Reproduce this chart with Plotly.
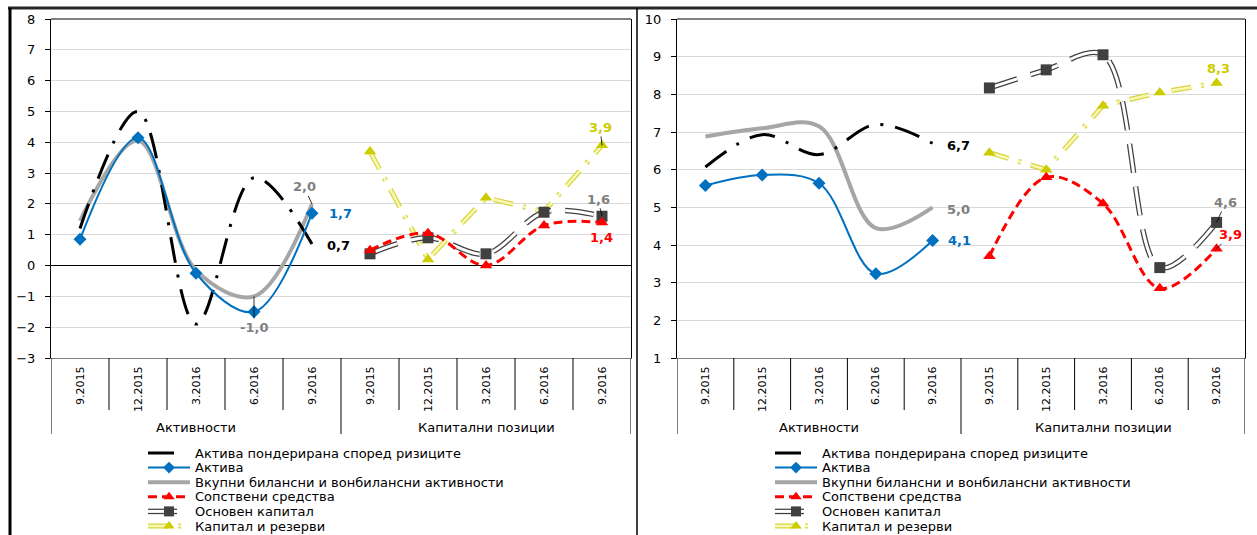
import plotly.graph_objects as go

W, H = 1257, 535

periods = ["9.2015", "12.2015", "3.2016", "6.2016", "9.2016"]
groups = ["Активности", "Капитални позиции"]

names = [
    "Актива пондерирана според ризиците",
    "Актива",
    "Вкупни билансни и вонбилансни активности",
    "Сопствени средства",
    "Основен капитал",
    "Капитал и резерви",
]

# Left panel, growth rates (%)
l_rwa = [1.2, 5.0, -1.9, 2.85, 0.7]
l_assets = [0.85, 4.15, -0.25, -1.5, 1.7]
l_total = [1.45, 4.05, -0.15, -1.0, 2.0]
l_own = [0.5, 1.05, 0.0, 1.3, 1.4]
l_core = [0.38, 0.9, 0.38, 1.73, 1.6]
l_capres = [3.7, 0.2, 2.2, 1.75, 3.9]

# Right panel, growth rates (%)
r_rwa = [6.07, 6.93, 6.4, 7.2, 6.7]
r_assets = [5.58, 5.86, 5.64, 3.24, 4.12]
r_total = [6.88, 7.1, 7.15, 4.45, 5.0]
r_own = [3.7, 5.8, 5.1, 2.85, 3.9]
r_core = [8.17, 8.65, 9.05, 3.4, 4.6]
r_capres = [6.45, 6.0, 7.7, 8.05, 8.3]

FONT = "DejaVu Sans"

# per-series styling: outer line, optional inner line (double-line look), marker, interpolation,
# and the length of the legend key
styles = [
    dict(line=dict(color="#000000", width=3, dash="26px,12px,3px,12px"), inner=None, marker=None,
         shape="spline", key=30),
    dict(line=dict(color="#0070C0", width=2), inner=None,
         marker=dict(symbol="diamond", size=10, color="#0070C0"), shape="spline", key=42),
    dict(line=dict(color="#A6A6A6", width=4), inner=None, marker=None, shape="spline", key=42),
    dict(line=dict(color="#FF0000", width=3, dash="9px,5px"), inner=None,
         marker=dict(symbol="triangle-up", size=11, color="#FF0000"), shape="spline", key=42),
    dict(line=dict(color="#404040", width=5.5, dash="29px,14px"),
         inner=dict(color="#FFFFFF", width=3, dash="29px,14px"),
         marker=dict(symbol="square", size=11, color="#404040"), shape="spline", key=42),
    dict(line=dict(color="#D6D640", width=5, dash="20px,10px,3px,10px"),
         inner=dict(color="#F8F8B4", width=2.5, dash="20px,10px,3px,10px"),
         marker=dict(symbol="triangle-up", size=11, color="#CCCC00"), shape="linear", key=42),
]

act_x = [0, 1, 2, 3, 4]
cap_x = [5, 6, 7, 8, 9]

panels = [
    ("x", "y", [l_rwa, l_assets, l_total, l_own, l_core, l_capres]),
    ("x2", "y2", [r_rwa, r_assets, r_total, r_own, r_core, r_capres]),
]

fig = go.Figure()


def add_series(xs, ys, st, xa, ya):
    fig.add_trace(go.Scatter(x=xs, y=ys, mode="lines", line=dict(st["line"], shape=st["shape"], smoothing=1),
                             xaxis=xa, yaxis=ya, showlegend=False, hoverinfo="skip"))
    if st["inner"] is not None:
        fig.add_trace(go.Scatter(x=xs, y=ys, mode="lines", line=dict(st["inner"], shape=st["shape"], smoothing=1),
                                 xaxis=xa, yaxis=ya, showlegend=False, hoverinfo="skip"))
    if st["marker"] is not None:
        fig.add_trace(go.Scatter(x=xs, y=ys, mode="markers", marker=st["marker"],
                                 xaxis=xa, yaxis=ya, showlegend=False, hoverinfo="skip"))


for xa, ya, series in panels:
    for k in [5, 4, 3]:
        add_series(cap_x, series[k], styles[k], xa, ya)
    for k in [2, 0, 1]:
        add_series(act_x, series[k], styles[k], xa, ya)


def fmt(v):
    return f"{v:.1f}".replace(".", ",")


# value labels: axes, value, category index, text offset (px), colour, leader line
labels = [
    ("x", "y", l_total[4], 4, -8, -17, "#808080", True),
    ("x", "y", l_assets[4], 4, 28, 0, "#0070C0", False),
    ("x", "y", l_rwa[4], 4, 26, 2, "#000000", False),
    ("x", "y", l_total[3], 3, 0, 31, "#808080", True),
    ("x", "y", l_capres[4], 9, -2, -18, "#CCCC00", True),
    ("x", "y", l_core[4], 9, -4, -17, "#808080", True),
    ("x", "y", l_own[4], 9, -1, 15, "#FF0000", False),
    ("x2", "y2", r_rwa[4], 4, 26, 2, "#000000", False),
    ("x2", "y2", r_total[4], 4, 26, 2, "#808080", False),
    ("x2", "y2", r_assets[4], 4, 27, 0, "#0070C0", False),
    ("x2", "y2", r_capres[4], 9, 2, -15, "#CCCC00", False),
    ("x2", "y2", r_core[4], 9, 9, -20, "#808080", True),
    ("x2", "y2", r_own[4], 9, 14, -14, "#FF0000", True),
]
for xa, ya, v, i, dx, dy, col, leader in labels:
    fig.add_annotation(x=i, y=v, xref=xa, yref=ya, text=f"<b>{fmt(v)}</b>",
                       showarrow=True, ax=dx, ay=dy, arrowhead=0, arrowwidth=0.8, standoff=0,
                       arrowcolor="#000000" if leader else "rgba(0,0,0,0)",
                       font=dict(family=FONT, size=13, color=col))

areas = [(51, 631), (677, 1245)]
top_px, bot_px = 19, 358
ydom = [1 - bot_px / H, 1 - top_px / H]

axis_common = dict(
    range=[-0.5, 9.5], tickmode="array", tickvals=list(range(10)),
    ticktext=periods + periods, tickangle=-90, ticks="", automargin=False,
    ticklabelstandoff=3,
    tickfont=dict(family=FONT, size=11, color="#000000"),
    showgrid=False, zeroline=False, showline=True, linecolor="#808080", linewidth=1,
)
yaxis_common = dict(
    dtick=1, ticks="outside", ticklen=5, tickcolor="#000000", automargin=False,
    ticklabelstandoff=7,
    tickfont=dict(family=FONT, size=13, color="#000000"),
    showgrid=True, gridcolor="#D9D9D9", gridwidth=1,
    showline=True, linecolor="#000000", linewidth=1, mirror=True,
)

fig.update_layout(
    width=W, height=H, margin=dict(l=0, r=0, t=0, b=0, autoexpand=False),
    paper_bgcolor="#FFFFFF", plot_bgcolor="rgba(0,0,0,0)",
    showlegend=False,
    xaxis=dict(axis_common, domain=[areas[0][0] / W, areas[0][1] / W], anchor="y"),
    yaxis=dict(yaxis_common, domain=ydom, range=[-3, 8], anchor="x",
               zeroline=True, zerolinecolor="#000000", zerolinewidth=1),
    xaxis2=dict(axis_common, domain=[areas[1][0] / W, areas[1][1] / W], anchor="y2"),
    yaxis2=dict(yaxis_common, domain=ydom, range=[1, 10], anchor="x2", zeroline=False),
    # page-pixel helper axes for the legend keys and frame
    xaxis3=dict(domain=[0, 1], range=[0, W], visible=False, anchor="y3", fixedrange=True, automargin=False),
    yaxis3=dict(domain=[0, 1], range=[H, 0], visible=False, anchor="x3", fixedrange=True, automargin=False),
)

# category separators, group labels and top edge of each plot area
for xa, (x0, x1) in zip(["x", "x2"], areas):
    for b in range(11):
        long = b in (0, 5, 10)
        fig.add_shape(type="line", xref=xa, yref="paper", x0=b - 0.5, x1=b - 0.5,
                      y0=ydom[0], y1=1 - (434 if long else 410) / H,
                      line=dict(color="#000000", width=1))
    for g, gx in enumerate([2, 7]):
        fig.add_annotation(x=gx, y=1 - 427 / H, xref=xa, yref="paper", text=groups[g],
                           showarrow=False, xanchor="center", yanchor="middle",
                           font=dict(family=FONT, size=13, color="#000000"))
    fig.add_shape(type="line", xref="paper", yref="paper", x0=x0 / W, x1=x1 / W,
                  y0=ydom[1], y1=ydom[1], line=dict(color="#000000", width=1))

# outer frame
fig.add_shape(type="line", xref="x3", yref="y3", x0=8, x1=W, y0=8, y1=8,
              line=dict(color="#262626", width=3))
fig.add_shape(type="line", xref="x3", yref="y3", x0=10, x1=10, y0=8, y1=H,
              line=dict(color="#000000", width=3))
fig.add_shape(type="line", xref="x3", yref="y3", x0=637, x1=637, y0=8, y1=H,
              line=dict(color="#000000", width=1.5))

# legends under each panel
leg_y0, leg_dy = 453, 14.6
for lx in (148, 775):
    for k, name in enumerate(names):
        yk = leg_y0 + k * leg_dy
        st = styles[k]
        add_series([lx, lx + st["key"]], [yk, yk], dict(st, marker=None), "x3", "y3")
        if st["marker"] is not None:
            fig.add_trace(go.Scatter(x=[lx + 21], y=[yk], mode="markers",
                                     marker=dict(st["marker"], size=st["marker"]["size"] - 1),
                                     xaxis="x3", yaxis="y3", showlegend=False, hoverinfo="skip"))
        fig.add_annotation(x=lx + 45, y=yk, xref="x3", yref="y3", text=name, showarrow=False,
                           xanchor="left", yanchor="middle",
                           font=dict(family=FONT, size=13, color="#000000"))

fig.write_html("out.html")
